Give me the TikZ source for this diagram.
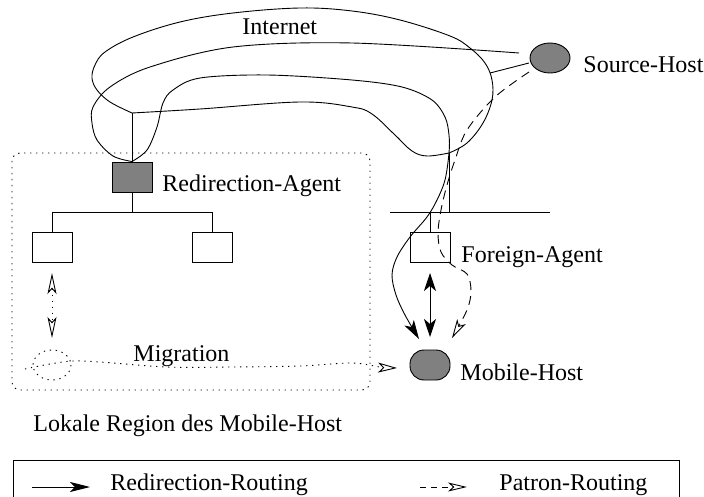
\documentclass[tikz,border=0pt]{standalone}
\usepackage{fontspec}
\setmainfont{Liberation Serif}
\usetikzlibrary{arrows.meta,shapes.geometric}
\begin{document}
\begin{tikzpicture}[x=1pt,y=-1pt,line width=0.9pt,
  lbl/.style={anchor=base west,inner sep=0pt,font=\fontsize{24}{28}\selectfont},
  sqbox/.style={draw,minimum width=40pt,minimum height=30pt,inner sep=0pt},
  hostfill/.style={draw,fill=black!50},
  dotline/.style={dash pattern=on 1.3pt off 4.7pt},
  dashline/.style={dash pattern=on 9pt off 6pt},
  fillhead/.style={-{Stealth[length=19pt,width=11pt,inset=5pt]}},
  openhead/.style={-{Stealth[open,fill=white,length=19pt,width=10pt,inset=5pt]}}]
\useasboundingbox (0,0) rectangle (704,497);
\clip (0,0) rectangle (704,497);

% nodes
\node[sqbox,hostfill] (RA) at (132,177) {};
\node[sqbox] (B1) at (52,247) {};
\node[sqbox] (B2) at (212,247) {};
\node[sqbox] (FA) at (430,247) {};
\node[draw,fill=black!50,ellipse,minimum width=40pt,minimum height=30pt,inner sep=0pt] (SH) at (550,58) {};
\node[draw,fill=black!50,rounded corners=14pt,minimum width=40pt,minimum height=30pt,inner sep=0pt] (MH) at (430,365) {};

\coordinate (J1) at (132,113);
\coordinate (J2) at (449,153);

% labels
\node[lbl] (tInternet) at (242,35) {Internet};
\node[lbl] (tRA) at (162,192) {Redirection-Agent};
\node[lbl] (tSH) at (583,73) {Source-Host};
\node[lbl] (tFA) at (461,262) {Foreign-Agent};
\node[lbl] (tMH) at (460,380) {Mobile-Host};
\node[lbl] (tMig) at (133,361) {Migration};
\node[lbl] (tLok) at (33,431) {Lokale Region des Mobile-Host};

% local region
\draw[dotline,rounded corners=8pt] (12,153) rectangle (370,390);

% internet blob
\draw plot[smooth,tension=0.6] coordinates {(J1) (200,109) (300,102) (352,107) (372,114) (395,135) (412,151) (427,156) (J2)};
\draw plot[smooth,tension=0.6] coordinates {(J2) (467,143) (483,123) (492,100) (492,80) (485,63) (470,48) (450,36) (400,20) (352,11) (300,8) (233,13) (180,22) (133,37) (105,52) (95,65) (92,78) (97,90) (110,102) (J1)};

% routers
\draw (J1) -- (RA.north);
\draw (RA.south) -- (132,212);
\coordinate (busA) at (52,212);
\coordinate (busB) at (212,212);
\draw (busA) -- (busB);
\draw (busA) -- (B1.north);
\draw (busB) -- (B2.north);
\coordinate (fbusL) at (390,212);
\coordinate (fbusR) at (550,212);
\draw (fbusL) -- (fbusR);
\draw (J2) -- (449,212);
\draw (430,212) -- (FA.north);

% source host to redirection agent
\coordinate (sh1) at (519,53);
\draw plot[smooth,tension=0.55] coordinates {(sh1) (352,43) (233,47) (150,67) (110,87) (93,107) (92,123) (97,140) (113,156) (RA.north)};
\coordinate (sh2) at (529,63);
\coordinate (bl2) at (490,73);
\draw (sh2) -- (bl2);

% redirection routing to mobile host
\coordinate (mhA) at (419,339);
\draw[fillhead] plot[smooth,tension=0.55] coordinates {(RA.north) (147,150) (157,127) (163,103) (173,90) (200,78) (267,75) (352,80) (402,87) (432,100) (445,117) (449,135) (J2) (445,180) (437,200) (427,217) (410,237) (397,257) (392,275) (396,295) (405,315) (mhA)};

% patron routing (dashed)
\coordinate (sh3) at (529,72);
\coordinate (mhB) at (452,338);
\draw[dashline,openhead] plot[smooth,tension=0.55] coordinates {(sh3) (495,97) (467,130) (455,160) (447,185) (441,210) (438,233) (441,252) (452,265) (467,274) (471,291) (467,310) (mhB)};

% FA <-> MH
\coordinate (fa1) at (430,273);
\coordinate (mh1) at (430,337);
\draw[{Stealth[length=18pt,width=12pt,inset=5pt]}-{Stealth[length=18pt,width=12pt,inset=5pt]}] (fa1) -- (mh1);

% migration
\coordinate (b1a) at (52,273);
\coordinate (b1b) at (52,338);
\draw[dotline,{Stealth[open,fill=white,length=21pt,width=9pt,inset=5pt]}-{Stealth[open,fill=white,length=21pt,width=9pt,inset=5pt]}] (b1a) -- (b1b);
\draw[dotline] (52,365) ellipse [x radius=19, y radius=15];
\coordinate (mig0) at (25,369);
\coordinate (mig1) at (397,368);
\draw[dotline,openhead] plot[smooth,tension=0.55] coordinates {(mig0) (50,364) (73,361) (100,362) (167,367) (233,367) (300,366) (352,363) (380,367) (mig1)};

% legend
\draw (13,460) rectangle (679,520);
\coordinate (lg1) at (32,487);
\coordinate (lg2) at (90,487);
\draw[-{Stealth[length=20pt,width=10pt,inset=5pt]}] (lg1) -- (lg2);
\node[lbl] (tRR) at (110,490) {Redirection-Routing};
\coordinate (lg3) at (420,487);
\coordinate (lg4) at (467,487);
\draw[dash pattern=on 6pt off 5pt,-{Stealth[open,fill=white,length=19pt,width=9pt,inset=5pt]}] (lg3) -- (lg4);
\node[lbl] (tPR) at (499,490) {Patron-Routing};
\end{tikzpicture}
\end{document}
